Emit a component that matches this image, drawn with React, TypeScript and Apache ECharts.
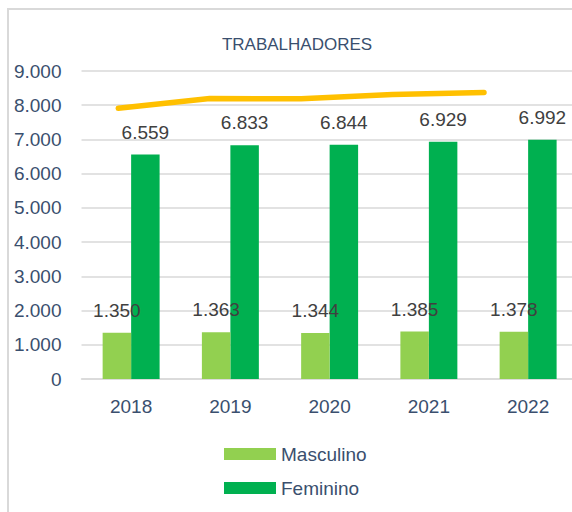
import React, { useEffect, useRef } from "react";
import * as echarts from "echarts";

const categories = ["2018", "2019", "2020", "2021", "2022"];
const masculino = [1350, 1363, 1344, 1385, 1378];
const feminino = [6559, 6833, 6844, 6929, 6992];
const totalLine = [7909, 8196, 8188, 8314, 8370];
const yTicks = { min: 0, max: 9000, interval: 1000 };

const fmt = (v: number) => {
  const s = Math.round(v).toString();
  return s.replace(/\B(?=(\d{3})+(?!\d))/g, ".");
};

const FONT = "Liberation Sans";
const NAVY = "#3A4F6E";

export default function App() {
  const ref = useRef<HTMLDivElement>(null);
  useEffect(() => {
    document.body.style.overflow = "hidden";
    const chart = echarts.init(ref.current!, null, { renderer: "svg" });
    chart.setOption({
      animation: false,
      backgroundColor: "#ffffff",
      textStyle: { fontFamily: FONT },
      title: {
        text: "TRABALHADORES",
        left: 292,
        textAlign: "center",
        top: 31,
        textStyle: { fontFamily: FONT, fontSize: 17, fontWeight: "normal", color: NAVY },
      },
      graphic: [
        {
          type: "rect",
          shape: { x: 8, y: 9, width: 700, height: 700 },
          style: { fill: "none", stroke: "#D9D9D9", lineWidth: 2 },
          silent: true,
          z: -10,
        },
      ],
      legend: {
        data: ["Masculino", "Feminino"],
        orient: "vertical",
        left: 219,
        top: 439,
        itemWidth: 52,
        itemHeight: 12,
        itemGap: 14,
        icon: "rect",
        textStyle: { fontFamily: FONT, fontSize: 19, color: NAVY, lineHeight: 20 },
      },
      grid: [
        { left: 81.5, right: -5.75, top: 71, bottom: 133, containLabel: false, outerBoundsMode: "none" },
        { left: 118.3, right: 88, top: 71, bottom: 133, containLabel: false, outerBoundsMode: "none" },
      ],
      xAxis: [
        {
          type: "category",
          data: categories,
          gridIndex: 0,
          axisLine: { lineStyle: { color: "#D9D9D9", width: 1.5 } },
          axisTick: { show: false },
          axisLabel: { fontFamily: FONT, fontSize: 19, color: NAVY, margin: 18 },
        },
        {
          type: "category",
          data: categories,
          gridIndex: 1,
          boundaryGap: false,
          show: false,
        },
      ],
      yAxis: [
        {
          type: "value",
          gridIndex: 0,
          min: yTicks.min,
          max: yTicks.max,
          interval: yTicks.interval,
          axisLine: { show: false },
          axisTick: { show: false },
          splitLine: { lineStyle: { color: "#D9D9D9", width: 1.5 } },
          axisLabel: {
            fontFamily: FONT,
            fontSize: 19,
            color: NAVY,
            margin: 20,
            formatter: (v: number) => fmt(v),
          },
        },
        {
          type: "value",
          gridIndex: 1,
          min: yTicks.min,
          max: yTicks.max,
          interval: yTicks.interval,
          show: false,
          splitLine: { show: false },
        },
      ],
      series: [
        {
          name: "Masculino",
          type: "bar",
          xAxisIndex: 0,
          yAxisIndex: 0,
          data: masculino,
          barGap: "0%",
          barCategoryGap: "42.6%",
          itemStyle: { color: "#92D050" },
          label: {
            show: true,
            position: "top",
            distance: 13,
            fontFamily: FONT,
            fontSize: 19,
            color: "#404040",
            formatter: (p: any) => fmt(p.value),
          },
          z: 5,
        },
        {
          name: "Feminino",
          type: "bar",
          xAxisIndex: 0,
          yAxisIndex: 0,
          data: feminino,
          barGap: "0%",
          barCategoryGap: "42.6%",
          itemStyle: { color: "#00B050" },
          label: {
            show: true,
            position: "top",
            distance: 13,
            fontFamily: FONT,
            fontSize: 19,
            color: "#404040",
            formatter: (p: any) => fmt(p.value),
          },
          z: 3,
        },
        {
          name: "Total",
          type: "line",
          xAxisIndex: 1,
          yAxisIndex: 1,
          data: totalLine,
          symbol: "none",
          lineStyle: { color: "#FFC000", width: 5.5, cap: "round", join: "round" },
          itemStyle: { color: "#FFC000" },
          z: 4,
        },
      ],
    });
    return () => chart.dispose();
  }, []);
  return (
    <div
      ref={ref}
      style={{ position: "absolute", left: 0, top: 0, width: 572, height: 512 }}
    />
  );
}
